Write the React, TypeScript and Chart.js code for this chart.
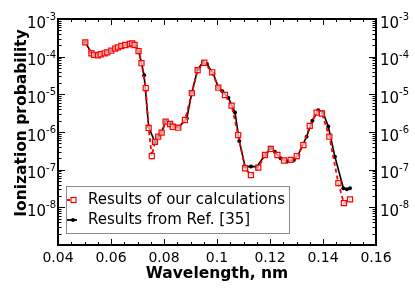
import React, { useEffect, useRef } from "react";
import { Chart, registerables } from "chart.js";

Chart.register(...registerables);

// ---- Data ----
const wavelengthOurs = [
  0.0503, 0.0526, 0.0536, 0.0551, 0.0561, 0.0576, 0.0586, 0.0601, 0.0616, 0.0626,
  0.0639, 0.0654, 0.0671, 0.068, 0.0689, 0.0704, 0.0715, 0.0731, 0.0742, 0.0754,
  0.0766, 0.0778, 0.0791, 0.0806, 0.0823, 0.0833, 0.0854, 0.0879, 0.0905, 0.0927,
  0.0952, 0.0982, 0.1005, 0.103, 0.1055, 0.108, 0.1106, 0.1128, 0.1156, 0.1181,
  0.1203, 0.1228, 0.1253, 0.1278, 0.1301, 0.1326, 0.135, 0.1376, 0.1396, 0.1424,
  0.1458, 0.1479, 0.1502,
];
const probabilityOurs = [
  2.4e-4, 1.23e-4, 1.12e-4, 1.09e-4, 1.16e-4, 1.23e-4, 1.3e-4, 1.44e-4, 1.63e-4, 1.77e-4,
  1.92e-4, 2.04e-4, 2.17e-4, 2.26e-4, 2.04e-4, 1.41e-4, 6.7e-5, 1.47e-5, 1.28e-6, 2.3e-7,
  5.5e-7, 7.5e-7, 9.6e-7, 1.88e-6, 1.63e-6, 1.38e-6, 1.3e-6, 2.08e-6, 1.07e-5, 4.4e-5,
  6.9e-5, 3.85e-5, 1.5e-5, 9.6e-6, 5.0e-6, 8.3e-7, 1.09e-7, 7.2e-8, 1.13e-7, 2.45e-7,
  3.55e-7, 2.45e-7, 1.75e-7, 1.82e-7, 2.3e-7, 4.5e-7, 1.45e-6, 3.26e-6, 3.1e-6, 7.5e-7,
  4.4e-8, 1.29e-8, 1.63e-8,
];

const wavelengthRef = [
  0.0503, 0.0525, 0.054, 0.056, 0.058, 0.06, 0.062, 0.064, 0.066, 0.068,
  0.069, 0.0705, 0.0725, 0.0742, 0.0766, 0.0778, 0.0791, 0.0806, 0.0823, 0.084,
  0.0856, 0.0886, 0.0905, 0.0927, 0.0947, 0.0962, 0.0986, 0.1005, 0.102, 0.1043,
  0.1068, 0.1084, 0.1106, 0.1128, 0.115, 0.1181, 0.1203, 0.1218, 0.124, 0.1265,
  0.129, 0.1307, 0.1338, 0.136, 0.1382, 0.14, 0.142, 0.1445, 0.1477, 0.149, 0.1502,
];
const probabilityRef = [
  2.4e-4, 1.3e-4, 1.15e-4, 1.12e-4, 1.25e-4, 1.45e-4, 1.68e-4, 1.9e-4, 2.1e-4, 2.3e-4,
  2.0e-4, 1.4e-4, 3.2e-5, 1.4e-6, 5.2e-7, 7.5e-7, 1.0e-6, 1.9e-6, 1.65e-6, 1.45e-6,
  1.35e-6, 2.3e-6, 1.1e-5, 4.6e-5, 7.1e-5, 6.4e-5, 3.5e-5, 1.55e-5, 1.2e-5, 8.1e-6,
  3.3e-6, 5.8e-7, 1.2e-7, 1.22e-7, 1.2e-7, 2.4e-7, 3.8e-7, 3.0e-7, 2.0e-7, 1.65e-7,
  1.8e-7, 2.5e-7, 7.5e-7, 2.0e-6, 3.8e-6, 3.3e-6, 1.4e-6, 2.2e-7, 3.2e-8, 3.0e-8, 3.2e-8,
];

const seriesLabels = ["Results of our calculations", "Results from Ref. [35]"];
const xTickValues = [0.04, 0.06, 0.08, 0.1, 0.12, 0.14, 0.16];
const xTickLabels = ["0.04", "0.06", "0.08", "0.1", "0.12", "0.14", "0.16"];
const xMinorStep = 0.005;
const yTickExponents = [-3, -4, -5, -6, -7, -8];
const yDecades = [-9, -8, -7, -6, -5, -4];
const xTitle = "Wavelength, nm";
const yTitle = "Ionization probability";

const X_MIN = 0.04;
const X_MAX = 0.16;
const Y_MIN = 1e-9;
const Y_MAX = 1e-3;

const FONT = "'DejaVu Sans', Verdana, sans-serif";

const decorPlugin = {
  id: "decor",
  afterDraw(chart: any) {
    const ctx = chart.ctx as CanvasRenderingContext2D;
    const a = chart.chartArea;
    const xs = chart.scales.x;
    const ys = chart.scales.y;
    ctx.save();
    ctx.strokeStyle = "#000";
    ctx.lineWidth = 1;

    const line = (x1: number, y1: number, x2: number, y2: number) => {
      ctx.beginPath();
      ctx.moveTo(x1, y1);
      ctx.lineTo(x2, y2);
      ctx.stroke();
    };

    // x ticks (inward, top and bottom)
    const n = Math.round((X_MAX - X_MIN) / xMinorStep);
    for (let i = 0; i <= n; i++) {
      const v = X_MIN + i * xMinorStep;
      const px = Math.round(xs.getPixelForValue(v)) + 0.5;
      const major = i % 4 === 0;
      const len = major ? 6 : 3;
      line(px, a.bottom, px, a.bottom - len);
      line(px, a.top, px, a.top + len);
    }

    // y ticks (inward, left and right)
    for (const e of yDecades) {
      for (let m = 1; m <= 9; m++) {
        const v = m * Math.pow(10, e);
        if (v < Y_MIN || v > Y_MAX) continue;
        const py = Math.round(ys.getPixelForValue(v)) + 0.5;
        const len = m === 1 ? 7 : 3.5;
        line(a.left, py, a.left + len, py);
        line(a.right, py, a.right - len, py);
      }
    }

    // frame
    ctx.lineWidth = 2;
    ctx.strokeRect(a.left, a.top, a.right - a.left, a.bottom - a.top);

    ctx.fillStyle = "#000";
    // x tick labels
    ctx.font = `14px ${FONT}`;
    ctx.textAlign = "center";
    ctx.textBaseline = "alphabetic";
    xTickValues.forEach((v, i) => {
      ctx.fillText(xTickLabels[i], xs.getPixelForValue(v), a.bottom + 16.5);
    });

    // y tick labels (left and right), 10 with superscript exponent
    const baseFont = `15px ${FONT}`;
    const expFont = `10px ${FONT}`;
    ctx.textAlign = "left";
    yTickExponents.forEach((e) => {
      const py = ys.getPixelForValue(Math.pow(10, e));
      const expText = String(e);
      ctx.font = baseFont;
      const w10 = ctx.measureText("10").width;
      ctx.font = expFont;
      const wExp = ctx.measureText(expText).width;
      // left
      let x0 = a.left - 2 - (w10 + wExp);
      ctx.font = baseFont;
      ctx.fillText("10", x0, py + 8.5);
      ctx.font = expFont;
      ctx.fillText(expText, x0 + w10, py + 1);
      // right
      x0 = a.right + 4;
      ctx.font = baseFont;
      ctx.fillText("10", x0, py + 8.5);
      ctx.font = expFont;
      ctx.fillText(expText, x0 + w10, py + 1);
    });

    // axis titles
    ctx.font = `bold 15.5px ${FONT}`;
    ctx.textAlign = "center";
    ctx.textBaseline = "alphabetic";
    ctx.fillText(xTitle, (a.left + a.right) / 2, a.bottom + 33);
    ctx.save();
    ctx.translate(22, (a.top + a.bottom) / 2 - 9);
    ctx.rotate(-Math.PI / 2);
    ctx.textBaseline = "middle";
    ctx.fillText(yTitle, 0, 0);
    ctx.restore();

    // legend box
    const bx = a.left + 8;
    const by = a.bottom - 59;
    const bw = 224;
    const bh = 48;
    ctx.fillStyle = "#fff";
    ctx.fillRect(bx, by, bw, bh);
    ctx.strokeStyle = "#8c8c8c";
    ctx.lineWidth = 1;
    ctx.strokeRect(bx + 0.5, by + 0.5, bw - 1, bh - 1);

    const ds = chart.data.datasets;
    const rows = [by + 14, by + 34];
    rows.forEach((ry, i) => {
      const d = ds[i];
      ctx.strokeStyle = d.borderColor;
      ctx.lineWidth = 1.8;
      ctx.setLineDash(i === 0 ? [3, 2] : []);
      line(bx + 1, ry, bx + 11, ry);
      ctx.setLineDash([]);
      if (i === 0) {
        ctx.fillStyle = "#fff";
        ctx.fillRect(bx + 5, ry - 2.5, 5, 5);
        ctx.lineWidth = 1.2;
        ctx.strokeRect(bx + 5, ry - 2.5, 5, 5);
      } else {
        ctx.fillStyle = "#000";
        ctx.beginPath();
        ctx.arc(bx + 7, ry, 2, 0, Math.PI * 2);
        ctx.fill();
      }
      ctx.fillStyle = "#000";
      ctx.font = `15px ${FONT}`;
      ctx.textAlign = "left";
      ctx.textBaseline = "middle";
      ctx.fillText(d.label, bx + 22, ry + 0.5);
    });

    ctx.restore();
  },
};

export default function App() {
  const canvasRef = useRef<HTMLCanvasElement | null>(null);

  useEffect(() => {
    const canvas = canvasRef.current;
    if (!canvas) return;
    const chart = new Chart(canvas, {
      type: "line",
      data: {
        datasets: [
          {
            label: seriesLabels[0],
            data: wavelengthOurs.map((x, i) => ({ x, y: probabilityOurs[i] })),
            borderColor: "#ff0000",
            borderWidth: 1.8,
            borderDash: [4, 3],
            pointStyle: "rect",
            pointRadius: 3.6,
            pointBorderColor: "#ff0000",
            pointBackgroundColor: "rgba(255,255,255,0.6)",
            pointBorderWidth: 1.2,
            fill: false,
            tension: 0,
          },
          {
            label: seriesLabels[1],
            data: wavelengthRef.map((x, i) => ({ x, y: probabilityRef[i] })),
            borderColor: "#000000",
            borderWidth: 1.6,
            pointStyle: "circle",
            pointRadius: 2,
            pointBorderWidth: 0,
            pointBackgroundColor: "#000000",
            pointBorderColor: "#000000",
            fill: false,
            tension: 0,
          },
        ],
      },
      options: {
        animation: false,
        responsive: false,
        devicePixelRatio: 1,
        layout: { padding: { left: 58, right: 39, top: 19, bottom: 49 } },
        plugins: {
          legend: { display: false },
          tooltip: { enabled: false },
        },
        scales: {
          x: { type: "linear", min: X_MIN, max: X_MAX, display: false },
          y: { type: "logarithmic", min: Y_MIN, max: Y_MAX, display: false },
        },
      },
      plugins: [decorPlugin],
    });
    return () => chart.destroy();
  }, []);

  return (
    <div style={{ position: "fixed", left: 0, top: 0, width: 415, height: 294, background: "#fff" }}>
      <canvas ref={canvasRef} width={415} height={294} />
    </div>
  );
}
